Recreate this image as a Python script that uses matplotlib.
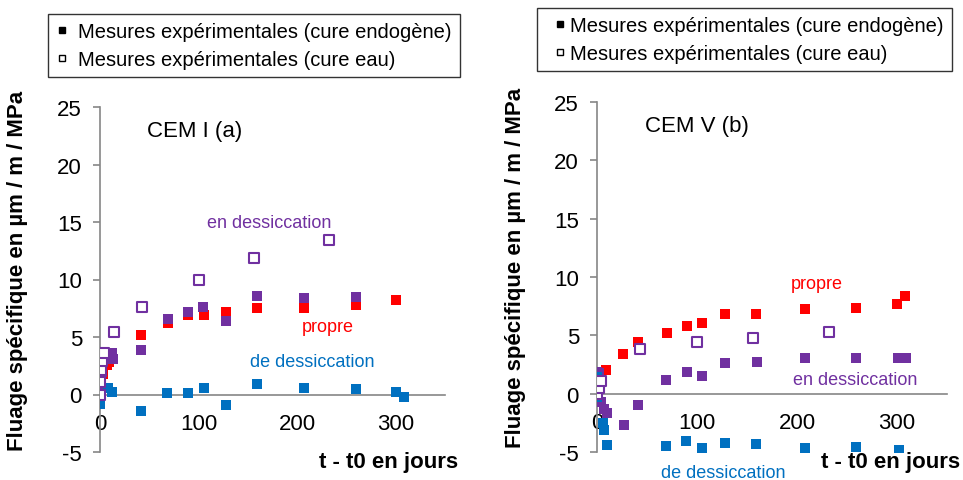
import matplotlib
matplotlib.use("Agg")
import matplotlib.pyplot as plt
from matplotlib.lines import Line2D

plt.rcParams['font.family'] = ['Liberation Sans', 'DejaVu Sans']
plt.rcParams['axes.unicode_minus'] = False

RED = '#FF0000'
PURPLE = '#7030A0'
BLUE = '#0070C0'
GREY = '#868686'

# CEM I (a)
a_propre_x = [3, 7, 9.5, 41.5, 69, 89, 106, 128, 159, 207, 260, 300]
a_propre_y = [1.8, 2.6, 2.8, 5.2, 6.2, 6.9, 6.9, 7.2, 7.5, 7.5, 7.8, 8.2]
a_endo_x = [0, 1, 2, 12, 13, 41.5, 69, 89, 104, 128, 159, 207, 260]
a_endo_y = [0.3, 1.2, 2.0, 3.6, 3.1, 3.85, 6.55, 7.2, 7.6, 6.4, 8.55, 8.35, 8.45]
a_eau_x = [0, 0, 1, 2, 4, 14, 43, 100, 156, 232]
a_eau_y = [0, 1.1, 2.1, 2.9, 3.6, 5.4, 7.6, 10.0, 11.9, 13.4]
a_desc_x = [0, 8.5, 12.5, 41.5, 68, 89, 105.5, 128, 159, 207, 260, 300, 308]
a_desc_y = [-0.8, 0.6, 0.2, -1.45, 0.17, 0.1, 0.55, -0.93, 0.95, 0.6, 0.45, 0.23, -0.25]

# CEM V (b)
b_propre_x = [0, 2, 8.5, 26, 41, 70, 90, 105, 128, 159, 208, 259, 300, 308]
b_propre_y = [0.9, 1.5, 2.0, 3.4, 4.45, 5.2, 5.8, 6.05, 6.8, 6.8, 7.25, 7.35, 7.7, 8.35]
b_endo_x = [0, 2, 4, 6.5, 10, 27, 41, 69, 90, 105, 128, 160, 208, 259, 301, 309]
b_endo_y = [1.85, 1.8, -0.75, -1.3, -1.65, -2.65, -0.97, 1.17, 1.85, 1.5, 2.6, 2.7,
            3.05, 3.05, 3.05, 3.05]
b_eau_x = [0, 1.5, 3.5, 43, 100, 156, 232]
b_eau_y = [0, 0.5, 1.05, 3.8, 4.4, 4.75, 5.3]
b_desc_x = [0, 0, 6.3, 7.3, 9.7, 69, 89, 105, 128, 159, 208, 259, 302]
b_desc_y = [1.43, -0.3, -2.5, -3.15, -4.4, -4.45, -4.05, -4.65, -4.2, -4.35, -4.65,
            -4.6, -4.8]

xticks = [0, 100, 200, 300]
yticks = [-5, 0, 5, 10, 15, 20, 25]
ylabel = 'Fluage spécifique en µm / m / MPa'
xlabel = 't - t0 en jours'
leg_labels = ['Mesures expérimentales (cure endogène)', 'Mesures expérimentales (cure eau)']

W, H = 963, 481
fig = plt.figure(figsize=(W / 100, H / 100), dpi=100)


def px(x0, x1, y_top, y_bot):
    return [x0 / W, 1 - y_bot / H, (x1 - x0) / W, (y_bot - y_top) / H]


def panel(rect, propre, endo, eau, desc):
    ax = fig.add_axes(rect)
    ax.scatter(*propre, marker='s', s=49, color=RED, linewidths=0, zorder=3)
    ax.scatter(*endo, marker='s', s=49, color=PURPLE, linewidths=0, zorder=4)
    ax.scatter(*desc, marker='s', s=49, color=BLUE, linewidths=0, zorder=4)
    ax.scatter(*eau, marker='s', s=42, facecolors='white', edgecolors=PURPLE,
               linewidths=1.5, zorder=5)
    ax.set_xlim(0, 350)
    ax.set_ylim(-5, 25)
    ax.set_xticks(xticks)
    ax.set_yticks(yticks)
    for s in ['top', 'right']:
        ax.spines[s].set_visible(False)
    ax.spines['bottom'].set_position(('data', 0))
    ax.spines['bottom'].set_color(GREY)
    ax.spines['left'].set_color(GREY)
    ax.spines['bottom'].set_linewidth(1.2)
    ax.spines['left'].set_linewidth(1.2)
    ax.tick_params(axis='x', length=0, pad=13, labelsize=16)
    ax.tick_params(axis='y', length=5, width=1.2, color=GREY, pad=8, labelsize=16)
    return ax


def legend(x, y, hl, tp):
    handles = [Line2D([], [], ls='none', marker='s', ms=5, color='black'),
               Line2D([], [], ls='none', marker='s', ms=5, mfc='white', mec='black', mew=1)]
    fig.legend(handles, leg_labels, loc='upper left', bbox_to_anchor=(x, y),
               fontsize=14.5, frameon=True, fancybox=False, edgecolor='black',
               handlelength=hl, handletextpad=tp, borderpad=0.4, labelspacing=0.45,
               borderaxespad=0)


axa = panel(px(100, 445, 108, 453), (a_propre_x, a_propre_y), (a_endo_x, a_endo_y),
            (a_eau_x, a_eau_y), (a_desc_x, a_desc_y))
axa.text(47.7, 23, 'CEM I (a)', fontsize=16, ha='left', va='center')
axa.text(172, 15.0, 'en dessiccation', color=PURPLE, fontsize=13, ha='center', va='center')
axa.text(231, 5.9, 'propre', color=RED, fontsize=13, ha='center', va='center')
axa.text(215.5, 2.9, 'de dessiccation', color=BLUE, fontsize=13, ha='center', va='center')

axb = panel(px(597, 947, 103, 453), (b_propre_x, b_propre_y), (b_endo_x, b_endo_y),
            (b_eau_x, b_eau_y), (b_desc_x, b_desc_y))
axb.text(48, 23, 'CEM V (b)', fontsize=16, ha='left', va='center')
axb.text(220, 9.4, 'propre', color=RED, fontsize=13, ha='center', va='center')
axb.text(258, 1.2, 'en dessiccation', color=PURPLE, fontsize=13, ha='center', va='center')
axb.text(126, -6.8, 'de dessiccation', color=BLUE, fontsize=13, ha='center', va='center',
         clip_on=False)

fig.text(18 / W, 1 - 271 / H, ylabel, rotation=90, fontsize=16, fontweight='bold',
         ha='center', va='center')
fig.text(515 / W, 1 - 268 / H, ylabel, rotation=90, fontsize=16, fontweight='bold',
         ha='center', va='center')
fig.text(458 / W, 1 - 463 / H, xlabel, fontsize=16, fontweight='bold', ha='right', va='center')
fig.text(960 / W, 1 - 463 / H, xlabel, fontsize=16, fontweight='bold', ha='right', va='center')

legend(48 / W, 1 - 15 / H, 0.6, 0.5)
legend(537 / W, 1 - 9 / H, 1.45, -0.2)

fig.savefig('out.png', dpi=100)
